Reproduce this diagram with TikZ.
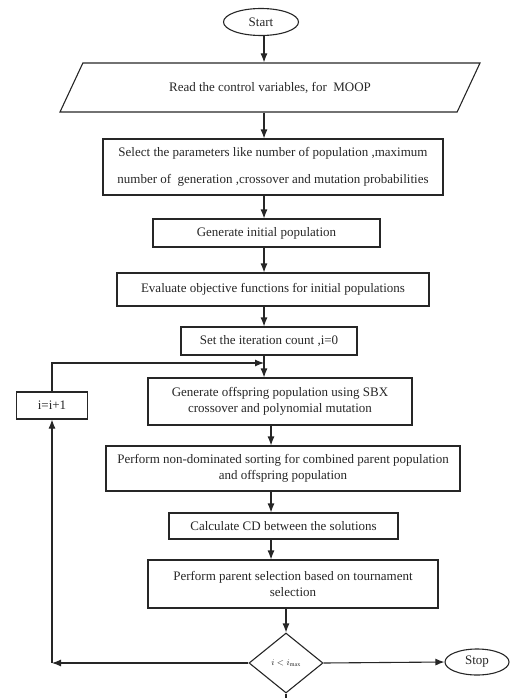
\documentclass[tikz,border=0pt]{standalone}
\usepackage{fontspec}
\setmainfont{Liberation Serif}
\usetikzlibrary{
    arrows.meta,
    positioning,
    shapes.geometric,
}
\colorlet{MyInk}{black!85}
\tikzset{
    >={Latex[length=9pt,width=7pt]}
}

\begin{document}
\begin{tikzpicture}[
    x=1pt,y=-1pt,
    every node/.style={font=\fontsize{13}{16}\selectfont,text=MyInk},
    box/.style={draw=MyInk,line width=1.1pt,rectangle,align=center,inner sep=0pt},
    term/.style={draw=MyInk,line width=1.1pt,ellipse,inner sep=0pt},
    io/.style={draw=MyInk,line width=1.1pt,trapezium,trapezium left angle=26,trapezium right angle=154,trapezium stretches body,inner sep=0pt},
    test/.style={draw=MyInk,line width=1.1pt,diamond,inner sep=0pt},
    arr/.style={->,line width=1.1pt,MyInk}
    ]
    \useasboundingbox (0,0) rectangle (516,698);

    \node[term,minimum width=75,minimum height=27] (start) at (261,22) {Start};
    \node[io,minimum width=420,minimum height=49] (read) at (270,87.5) {Read the control variables, for\ \ MOOP};
    \node[box,minimum width=340,minimum height=56] (sel) at (273,167) {Select the parameters like number of population ,maximum\\[11pt] number of\ \ generation ,crossover and mutation probabilities};
    \node[box,minimum width=227,minimum height=28] (init) at (266.5,233) {Generate initial population};
    \node[box,minimum width=312,minimum height=33] (eval) at (273,289.5) {Evaluate objective functions for initial populations};
    \node[box,minimum width=176,minimum height=28] (set) at (269,341) {Set the iteration count ,i=0};
    \node[box,minimum width=264,minimum height=47] (off) at (280,401.5) {Generate offspring population using SBX\\ crossover and polynomial mutation};
    \node[box,minimum width=71,minimum height=27] (inc) at (52,405.5) {i=i+1};
    \node[box,minimum width=354,minimum height=45] (nondom) at (283,468.5) {Perform non-dominated sorting for combined parent population\\ and offspring population};
    \node[box,minimum width=229,minimum height=26] (cd) at (283.5,526) {Calculate CD between the solutions};
    \node[box,minimum width=290,minimum height=48] (par) at (293,584) {Perform parent selection based on tournament\\ selection};
    \node[test,minimum width=74,minimum height=60] (dec) at (286,663) {\small$i<i_{\max}$};
    \node[term,minimum width=64,minimum height=26] (stop) at (477,662) {Stop};

    % arrow columns
    \coordinate (c1) at (264,0);
    \coordinate (c2) at (271,0);
    \coordinate (c3) at (286,0);
    \coordinate (join) at (264,363);
    \coordinate (out) at (286,708);

    \draw[arr] (start.south -| c1) -- (read.north -| c1);
    \draw[arr] (read.south -| c1) -- (sel.north -| c1);
    \draw[arr] (sel.south -| c1) -- (init.north -| c1);
    \draw[arr] (init.south -| c1) -- (eval.north -| c1);
    \draw[arr] (eval.south -| c1) -- (set.north -| c1);
    \draw[arr] (set.south -| c1) -- (off.north -| c1);
    \draw[arr] (off.south -| c2) -- (nondom.north -| c2);
    \draw[arr] (nondom.south -| c2) -- (cd.north -| c2);
    \draw[arr] (cd.south -| c2) -- (par.north -| c2);
    \draw[arr] (par.south -| c3) -- (dec.north);

    % loop back
    \draw[arr] (dec.west) -- (dec.west -| inc.south);
    \draw[arr] (dec.west -| inc.south) -- (inc.south);
    \draw[arr] (inc.north) |- (join);

    \draw[arr] (dec.east) -- (stop.west);
    \draw[arr] (dec.south) -- (out);
\end{tikzpicture}
\end{document}
